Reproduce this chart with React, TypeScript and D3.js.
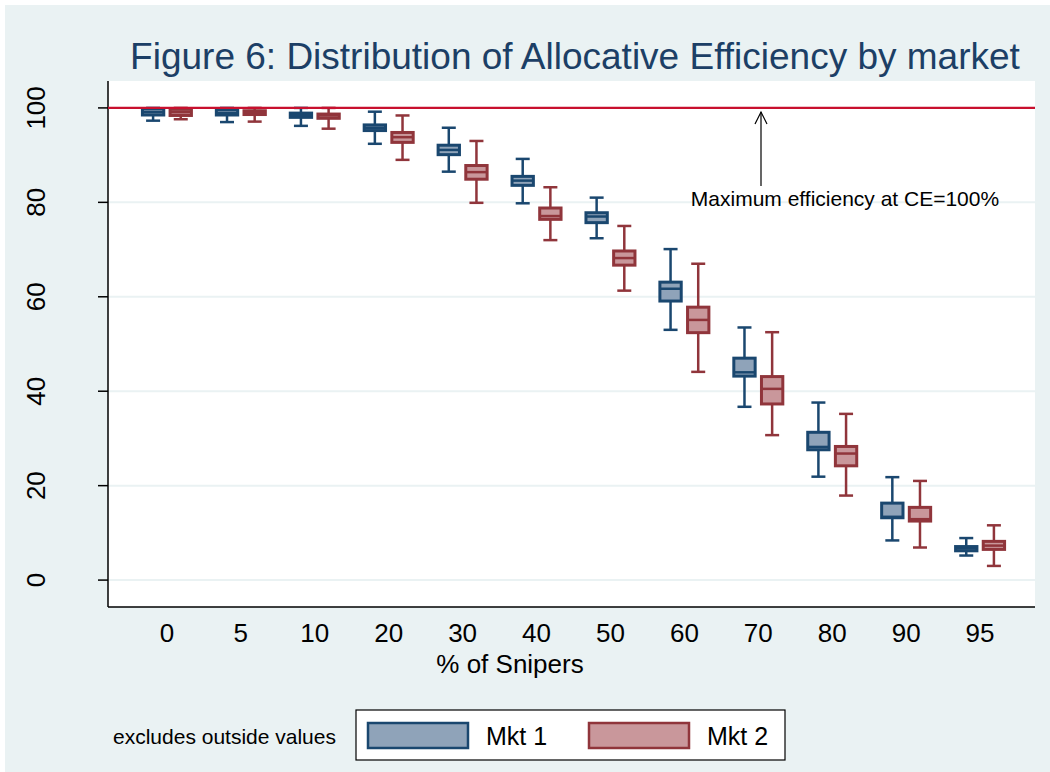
import React from "react";
import * as d3 from "d3";

// % of snipers (x groups)
const snipers = ["0", "5", "10", "20", "30", "40", "50", "60", "70", "80", "90", "95"];
const markets = ["Mkt 1", "Mkt 2"];

// Mkt 1 box stats (whisker low, q1, median, q3, whisker high)
const mkt1Lo = [97.3, 97.0, 96.2, 92.4, 86.5, 79.8, 72.4, 53.0, 36.7, 21.9, 8.4, 5.2];
const mkt1Q1 = [98.5, 98.5, 98.0, 95.2, 90.1, 83.6, 75.7, 59.1, 43.2, 27.6, 13.2, 6.2];
const mkt1Med = [99.1, 98.9, 98.5, 95.8, 91.1, 84.6, 77.0, 61.7, 44.0, 28.2, 13.4, 6.7];
const mkt1Q3 = [99.8, 99.6, 98.9, 96.4, 92.1, 85.5, 77.8, 63.1, 47.0, 31.3, 16.3, 7.1];
const mkt1Hi = [100, 100, 100, 99.2, 95.8, 89.2, 81.0, 70.1, 53.5, 37.6, 21.8, 8.9];

// Mkt 2 box stats
const mkt2Lo = [97.6, 97.1, 95.6, 89.0, 79.9, 72.0, 61.3, 44.1, 30.7, 17.9, 6.9, 3.0];
const mkt2Q1 = [98.4, 98.6, 97.8, 92.7, 84.9, 76.4, 66.7, 52.4, 37.3, 24.2, 12.5, 6.5];
const mkt2Med = [99.1, 99.0, 98.4, 93.8, 86.4, 77.1, 68.2, 55.1, 40.5, 26.8, 12.9, 7.3];
const mkt2Q3 = [99.7, 99.4, 98.7, 94.8, 87.8, 78.8, 69.7, 57.8, 43.1, 28.3, 15.4, 8.2];
const mkt2Hi = [100, 100, 100, 98.4, 93.0, 83.2, 75.0, 67.0, 52.5, 35.2, 21.0, 11.6];

const yTicks = [0, 20, 40, 60, 80, 100];

const colors = {
  "Mkt 1": { stroke: "#1a476f", fill: "#8fa3b9" },
  "Mkt 2": { stroke: "#90353b", fill: "#c9979b" },
};

const font = "Arial, 'Liberation Sans', sans-serif";

const App = () => {
  const plot = { left: 108, right: 1035, top: 81, bottom: 607 };

  const x = d3
    .scaleBand()
    .domain(snipers)
    .range([plot.left + 2, plot.right + 2])
    .paddingInner(0)
    .paddingOuter(0.27);

  const inner = d3.scaleBand().domain(markets).range([-26, 26]).paddingInner(0.12);

  const y = d3.scaleLinear().domain([-5.7, 105.7]).range([plot.bottom, plot.top]);

  const boxes = snipers.flatMap((s, i) => [
    { s, m: "Mkt 1", lo: mkt1Lo[i], q1: mkt1Q1[i], med: mkt1Med[i], q3: mkt1Q3[i], hi: mkt1Hi[i] },
    { s, m: "Mkt 2", lo: mkt2Lo[i], q1: mkt2Q1[i], med: mkt2Med[i], q3: mkt2Q3[i], hi: mkt2Hi[i] },
  ]);

  const bw = inner.bandwidth() - 3;
  const capW = 14;

  return (
    <>
      <style>{`body{margin:0}`}</style>
      <svg width={1050} height={772} style={{ display: "block" }}>
        <rect x={5} y={5} width={1045} height={767} fill="#eaf2f3" />
        <rect
          x={plot.left}
          y={plot.top}
          width={plot.right - plot.left}
          height={plot.bottom - plot.top}
          fill="#ffffff"
        />

        {/* title */}
        <text
          x={575}
          y={69}
          textAnchor="middle"
          fontFamily={font}
          fontSize={37}
          fill="#1c3f66"
        >
          Figure 6: Distribution of Allocative Efficiency by market
        </text>

        {/* gridlines */}
        {yTicks.map((t) => (
          <line
            key={"g" + t}
            x1={plot.left}
            x2={plot.right}
            y1={y(t)}
            y2={y(t)}
            stroke="#eaf2f3"
            strokeWidth={2}
          />
        ))}

        {/* y axis */}
        <line x1={plot.left} x2={plot.left} y1={plot.top} y2={plot.bottom} stroke="#000" strokeWidth={1.5} />
        {yTicks.map((t) => (
          <g key={"t" + t}>
            <line x1={plot.left - 10} x2={plot.left} y1={y(t)} y2={y(t)} stroke="#000" strokeWidth={1.5} />
            <text
              transform={`translate(45,${y(t)}) rotate(-90)`}
              textAnchor="middle"
              fontFamily={font}
              fontSize={26}
              fill="#000"
            >
              {t}
            </text>
          </g>
        ))}

        {/* x axis */}
        <line x1={plot.left} x2={plot.right} y1={plot.bottom} y2={plot.bottom} stroke="#000" strokeWidth={1.5} />
        {snipers.map((s) => (
          <text
            key={"x" + s}
            x={x(s)! + x.bandwidth() / 2}
            y={642}
            textAnchor="middle"
            fontFamily={font}
            fontSize={26}
            fill="#000"
          >
            {s}
          </text>
        ))}
        <text x={510} y={673} textAnchor="middle" fontFamily={font} fontSize={26} fill="#000">
          % of Snipers
        </text>

        {/* boxes */}
        {boxes.map((b) => {
          const cx = x(b.s)! + x.bandwidth() / 2 + inner(b.m)! + inner.bandwidth() / 2;
          const c = colors[b.m];
          return (
            <g key={b.s + b.m} stroke={c.stroke} strokeWidth={2.5}>
              <line x1={cx} x2={cx} y1={y(b.hi)} y2={y(b.q3)} />
              <line x1={cx} x2={cx} y1={y(b.q1)} y2={y(b.lo)} />
              <line x1={cx - capW / 2} x2={cx + capW / 2} y1={y(b.hi)} y2={y(b.hi)} />
              <line x1={cx - capW / 2} x2={cx + capW / 2} y1={y(b.lo)} y2={y(b.lo)} />
              <rect
                x={cx - bw / 2}
                y={y(b.q3)}
                width={bw}
                height={Math.max(0.5, y(b.q1) - y(b.q3))}
                fill={c.fill}
                strokeWidth={3}
              />
              <line x1={cx - bw / 2} x2={cx + bw / 2} y1={y(b.med)} y2={y(b.med)} />
            </g>
          );
        })}

        {/* reference line at 100 */}
        <line x1={plot.left} x2={plot.right} y1={y(100)} y2={y(100)} stroke="#c8102e" strokeWidth={2.2} />

        {/* annotation */}
        <line x1={761} x2={761} y1={186} y2={112} stroke="#000" strokeWidth={1.2} />
        <polyline points="755,124 761,112 767,124" fill="none" stroke="#000" strokeWidth={1.2} />
        <text x={845} y={206} textAnchor="middle" fontFamily={font} fontSize={21} fill="#000">
          Maximum efficiency at CE=100%
        </text>

        {/* legend */}
        <text x={113} y={744} fontFamily={font} fontSize={21} fill="#000">
          excludes outside values
        </text>
        <rect x={356} y={710} width={429} height={50} fill="#fff" stroke="#000" strokeWidth={1.2} />
        {markets.map((m, i) => (
          <g key={"l" + m}>
            <rect
              x={368 + i * 221}
              y={723}
              width={100}
              height={25}
              fill={colors[m].fill}
              stroke={colors[m].stroke}
              strokeWidth={2.5}
            />
            <text x={486 + i * 221} y={745} fontFamily={font} fontSize={25} fill="#000">
              {m}
            </text>
          </g>
        ))}
      </svg>
    </>
  );
};

export default App;
